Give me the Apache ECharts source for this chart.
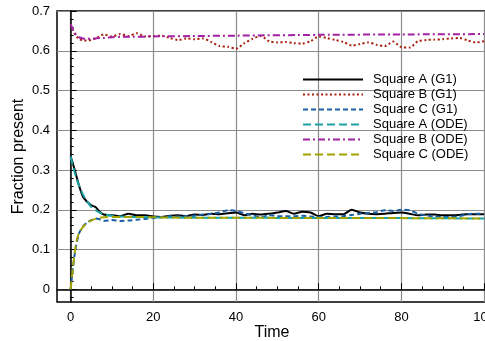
<!DOCTYPE html>
<html>
<head>
<meta charset="utf-8">
<script src="https://cdn.jsdelivr.net/npm/echarts@6/dist/echarts.min.js"></script>
<style>
  html, body { margin: 0; padding: 0; background: #fff; }
  #chart { width: 485px; height: 341px; }
</style>
</head>
<body>
<div id="chart"></div>
<script>
// simulation (G1) samples
const g1Time = [0, 1, 2, 3, 4, 5, 6, 7, 8, 10, 12, 14, 16, 18, 20, 22, 24, 26, 28, 30, 32, 34, 36, 38, 40, 42, 44, 46, 48, 50,
  52, 54, 56, 58, 60, 62, 64, 66, 68, 70, 72, 74, 76, 78, 80, 82, 84, 86, 88, 90, 92, 94, 96, 98, 100]
const squareA_G1 = [0.334, 0.300, 0.262, 0.232, 0.220, 0.211, 0.207, 0.195, 0.188, 0.186, 0.184, 0.190, 0.186, 0.186, 0.183,
  0.182, 0.185, 0.186, 0.184, 0.188, 0.187, 0.190, 0.189, 0.191, 0.193, 0.186, 0.190, 0.188, 0.190, 0.193,
  0.197, 0.190, 0.195, 0.193, 0.184, 0.190, 0.189, 0.189, 0.200, 0.193, 0.190, 0.189, 0.190, 0.192, 0.193,
  0.190, 0.186, 0.188, 0.188, 0.186, 0.186, 0.187, 0.189, 0.189, 0.189]
const squareB_G1 = [0.666, 0.643, 0.630, 0.626, 0.626, 0.627, 0.631, 0.636, 0.641, 0.636, 0.642, 0.637, 0.644, 0.636, 0.637,
  0.638, 0.632, 0.627, 0.631, 0.629, 0.631, 0.622, 0.612, 0.610, 0.605, 0.619, 0.630, 0.637, 0.624, 0.621,
  0.622, 0.619, 0.618, 0.624, 0.636, 0.632, 0.627, 0.622, 0.613, 0.617, 0.621, 0.615, 0.612, 0.623, 0.609,
  0.608, 0.624, 0.627, 0.628, 0.629, 0.631, 0.632, 0.626, 0.621, 0.624]
const squareC_G1 = [0, 0.090, 0.140, 0.158, 0.168, 0.174, 0.178, 0.176, 0.172, 0.174, 0.172, 0.173, 0.175, 0.177, 0.179,
  0.181, 0.184, 0.183, 0.184, 0.185, 0.188, 0.190, 0.193, 0.199, 0.197, 0.191, 0.187, 0.181, 0.187, 0.184,
  0.184, 0.184, 0.185, 0.183, 0.182, 0.182, 0.183, 0.184, 0.187, 0.190, 0.192, 0.194, 0.199, 0.197, 0.200,
  0.199, 0.190, 0.186, 0.183, 0.182, 0.182, 0.184, 0.189, 0.190, 0.190]

// ODE solution samples
const odeTime = [0, 0.5, 1, 1.5, 2, 3, 4, 5, 6, 7, 8, 10, 12, 15, 20, 30, 40, 60, 80, 100]
const squareA_ODE = [0.334, 0.312, 0.293, 0.276, 0.262, 0.238, 0.221, 0.207, 0.199, 0.193, 0.189, 0.185, 0.183, 0.182, 0.181,
  0.180, 0.180, 0.179, 0.179, 0.178]
const squareB_ODE = [0.667, 0.655, 0.645, 0.638, 0.634, 0.631, 0.630, 0.630, 0.631, 0.632, 0.632, 0.634, 0.635, 0.635, 0.636,
  0.637, 0.638, 0.640, 0.641, 0.642]
const squareC_ODE = [0, 0.050, 0.095, 0.125, 0.140, 0.157, 0.167, 0.173, 0.177, 0.180, 0.181, 0.182, 0.182, 0.182, 0.181,
  0.180, 0.180, 0.179, 0.179, 0.178]

const xMajor = [0, 20, 40, 60, 80, 100]
const xMinor = [5, 10, 15, 25, 30, 35, 45, 50, 55, 65, 70, 75, 85, 90, 95]
const yMajor = [0, 0.1, 0.2, 0.3, 0.4, 0.5, 0.6, 0.7]
const yMinor = [-0.02, 0.02, 0.04, 0.06, 0.08, 0.12, 0.14, 0.16, 0.18, 0.22, 0.24, 0.26, 0.28, 0.32, 0.34, 0.36, 0.38,
  0.42, 0.44, 0.46, 0.48, 0.52, 0.54, 0.56, 0.58, 0.62, 0.64, 0.66, 0.68]

const font = 'Liberation Sans, Arial, sans-serif'
const xRange = { min: -3.3, max: 100.7 }
const yRange = { min: -0.032, max: 0.7 }

const pair = (t, v) => t.map((x, i) => [x, v[i]])

const mkLine = (name, t, v, color, type, width) => ({
	name,
	type: 'line',
	data: pair(t, v),
	symbol: 'none',
	smooth: 0.25,
	lineStyle: { color, type, width },
	itemStyle: { color },
	emphasis: { disabled: true }
})

const chart = echarts.init(document.getElementById('chart'), null, { renderer: 'canvas' })

chart.setOption({
	animation: false,
	backgroundColor: '#fff',
	textStyle: { fontFamily: font },
	grid: {
		left: 57,
		top: 11,
		right: -2,
		bottom: 39,
		containLabel: false,
		outerBoundsMode: 'none',
		show: true,
		borderColor: '#000',
		borderWidth: 1.5,
		backgroundColor: 'transparent'
	},
	legend: {
		orient: 'vertical',
		left: 297,
		top: 68,
		itemWidth: 60,
		itemHeight: 14,
		itemGap: 2,
		itemStyle: { opacity: 0 },
		textStyle: { fontSize: 13, color: '#000', fontFamily: font, padding: [0, 0, 0, 5] },
		data: ['Square A (G1)', 'Square B (G1)', 'Square C (G1)', 'Square A (ODE)', 'Square B (ODE)', 'Square C (ODE)']
	},
	xAxis: [
		{
			type: 'value',
			...xRange,
			position: 'bottom',
			name: 'Time',
			nameLocation: 'middle',
			nameGap: 23,
			nameMoveOverlap: false,
			nameTextStyle: { fontSize: 16, color: '#000', fontFamily: font },
			axisLine: { show: true, lineStyle: { color: '#000', width: 1.5 } },
			axisTick: { show: true, inside: true, length: 6, customValues: xMajor, lineStyle: { color: '#000', width: 1 } },
			axisLabel: { customValues: xMajor, color: '#000', fontSize: 13, margin: 9, fontFamily: font },
			splitLine: { show: true, lineStyle: { color: '#8c8c8c', width: 1.2 } }
		},
		{
			type: 'value',
			...xRange,
			position: 'bottom',
			axisLine: { show: false },
			axisTick: { show: true, inside: true, length: 3, customValues: xMinor, lineStyle: { color: '#000', width: 1 } },
			axisLabel: { show: false },
			splitLine: { show: false }
		}
	],
	yAxis: [
		{
			type: 'value',
			...yRange,
			position: 'left',
			name: 'Fraction present',
			nameLocation: 'middle',
			nameGap: 30,
			nameMoveOverlap: false,
			nameTextStyle: { fontSize: 16, color: '#000', fontFamily: font },
			axisLine: { show: true, lineStyle: { color: '#000', width: 1.5 } },
			axisTick: { show: true, inside: true, length: 6, customValues: yMajor, lineStyle: { color: '#000', width: 1 } },
			axisLabel: { customValues: yMajor, color: '#000', fontSize: 13, margin: 7, fontFamily: font },
			splitLine: { show: true, lineStyle: { color: '#8c8c8c', width: 1.2 } }
		},
		{
			type: 'value',
			...yRange,
			position: 'left',
			axisLine: { show: false },
			axisTick: { show: true, inside: true, length: 3, customValues: yMinor, lineStyle: { color: '#000', width: 1 } },
			axisLabel: { show: false },
			splitLine: { show: false }
		}
	],
	series: [
		mkLine('Square A (G1)', g1Time, squareA_G1, '#000000', 'solid', 2),
		mkLine('Square B (G1)', g1Time, squareB_G1, '#a8200f', [2, 2.5], 2),
		mkLine('Square C (G1)', g1Time, squareC_G1, '#1a5fa4', [5, 3], 2),
		mkLine('Square A (ODE)', odeTime, squareA_ODE, '#1ba3a3', [8, 4], 2),
		mkLine('Square B (ODE)', odeTime, squareB_ODE, '#a321a3', [7, 3, 2, 3], 2),
		mkLine('Square C (ODE)', odeTime, squareC_ODE, '#a3a300', [8, 4], 2)
	]
})
</script>
</body>
</html>
